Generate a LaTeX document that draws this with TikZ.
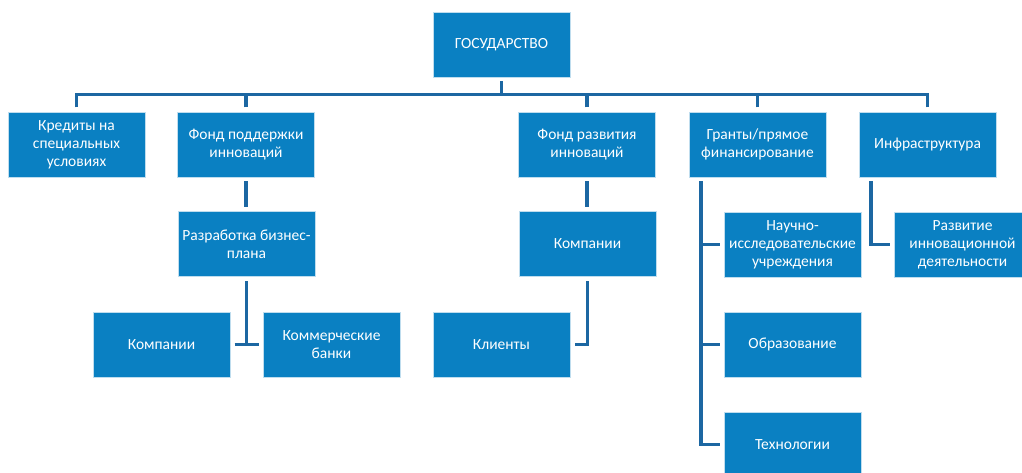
\documentclass[tikz,border=0pt]{standalone}
\usepackage{fontspec}
\setmainfont{Carlito}
\usetikzlibrary{calc}
\definecolor{boxblue}{HTML}{0A80C2}
\definecolor{lineblue}{HTML}{1C67A2}
\definecolor{edgeblue}{HTML}{BFDDEE}
\begin{document}
\begin{tikzpicture}[x=1pt,y=-1pt,
  box/.style={draw=edgeblue,line width=0.8pt,fill=boxblue,text=white,
    minimum width=137pt,minimum height=65pt,inner sep=2pt,outer sep=4.5pt,
    align=center,font=\fontsize{15.5}{18}\selectfont},
  conn/.style={draw=lineblue,line width=3.8pt}]
\useasboundingbox (0,0) rectangle (1022,473);
\fill[white] (0,0) rectangle (1022,473);
\node[box] (gos) at (501.5,44.5) {ГОСУДАРСТВО};
\node[box] (kred) at (76.5,144.5) {Кредиты на\\специальных\\условиях};
\node[box] (fpi) at (246,144.5) {Фонд поддержки\\инноваций};
\node[box] (fri) at (587,144.5) {Фонд развития\\инноваций};
\node[box] (gr) at (757.5,144.5) {Гранты/прямое\\финансирование};
\node[box] (inf) at (927.5,144.5) {Инфраструктура};
\node[box] (rbp) at (246.5,244) {Разработка бизнес-\\плана};
\node[box] (komp1) at (161.5,344.5) {Компании};
\node[box] (kb) at (331.5,344.5) {Коммерческие\\банки};
\node[box] (komp2) at (587.5,244) {Компании};
\node[box] (kl) at (501.5,344.5) {Клиенты};
\node[box] (nii) at (792.5,244.5) {Научно-\\исследовательские\\учреждения};
\node[box] (obr) at (792.5,344.5) {Образование};
\node[box] (tech) at (792.5,444.5) {Технологии};
\node[box] (riv) at (962.5,244.5) {Развитие\\инновационной\\деятельности};
% top tree
\coordinate (bar) at ($(gos.south)+(0,13)$);
\draw[conn] (gos.south) -- (bar);
\draw[conn] (kred.north) |- (bar);
\draw[conn] (fpi.north) |- (bar);
\draw[conn] (fri.north) |- (bar);
\draw[conn] (gr.north) |- (bar);
\draw[conn] (inf.north) |- (bar);
% Fond podderzhki
\draw[conn] (fpi.south) -- (fpi.south |- rbp.north);
\draw[conn] (rbp.south) -- (rbp.south |- komp1.east);
\draw[conn] (komp1.east) -- (kb.west);
% Fond razvitiya
\draw[conn] (fri.south) -- (fri.south |- komp2.north);
\draw[conn] (komp2.south) |- (kl.east);
% Granty
\coordinate (gs) at ($(gr.south)+(-56.5,0)$);
\draw[conn] (gs) |- (tech.west);
\draw[conn] (gs |- nii.west) -- (nii.west);
\draw[conn] (gs |- obr.west) -- (obr.west);
% Infrastruktura
\coordinate (is) at ($(inf.south)+(-56.5,0)$);
\draw[conn] (is) |- (riv.west);
\end{tikzpicture}
\end{document}
